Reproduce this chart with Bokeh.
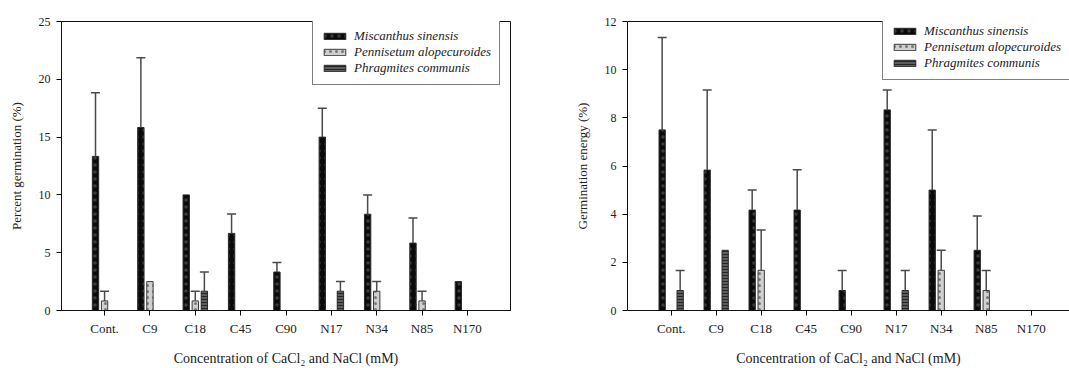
from bokeh.plotting import figure
from bokeh.models import (ColumnDataSource, FixedTicker, Legend, LegendItem, Whisker, TeeHead,
                          Range1d, LinearAxis)
from bokeh.layouts import row
from bokeh.embed import file_html
from bokeh.resources import INLINE

categories = ["Cont.", "C9", "C18", "C45", "C90", "N17", "N34", "N85", "N170"]
species = ["Miscanthus sinensis", "Pennisetum alopecuroides", "Phragmites communis"]

# Percent germination (%)
pg_miscanthus = [13.33, 15.83, 10.0, 6.67, 3.33, 15.0, 8.33, 5.83, 2.5]
pg_miscanthus_se = [5.5, 6.04, 0, 1.67, 0.83, 2.5, 1.67, 2.17, 0]
pg_pennisetum = [0.83, 2.5, 0.83, 0, 0, 0, 1.67, 0.83, 0]
pg_pennisetum_se = [0.83, 0, 0.83, 0, 0, 0, 0.83, 0.83, 0]
pg_phragmites = [0, 0, 1.67, 0, 0, 1.67, 0, 0, 0]
pg_phragmites_se = [0, 0, 1.67, 0, 0, 0.83, 0, 0, 0]

# Germination energy (%)
ge_miscanthus = [7.5, 5.83, 4.17, 4.17, 0.83, 8.33, 5.0, 2.5, 0]
ge_miscanthus_se = [3.84, 3.33, 0.83, 1.67, 0.83, 0.83, 2.5, 1.42, 0]
ge_pennisetum = [0, 0, 1.67, 0, 0, 0, 1.67, 0.83, 0]
ge_pennisetum_se = [0, 0, 1.67, 0, 0, 0, 0.83, 0.83, 0]
ge_phragmites = [0.83, 2.5, 0, 0, 0, 0.83, 0, 0, 0]
ge_phragmites_se = [0.83, 0, 0, 0, 0, 0.83, 0, 0, 0]

y_ticks_left = [0, 5, 10, 15, 20, 25]
y_ticks_right = [0, 2, 4, 6, 8, 10, 12]

FONT = "Liberation Serif"
offsets = [-0.2, 0.0, 0.2]
styles = [
    dict(fill_color="#0b0b0b", hatch_pattern="dot", hatch_color="#3c3c3c", hatch_scale=7, line_color="#2a2a2a"),
    dict(fill_color="#d0d0d0", hatch_pattern="dot", hatch_color="#7a7a7a", hatch_scale=6, line_color="#3a3a3a"),
    dict(fill_color="#5e5e5e", hatch_pattern="horizontal_line", hatch_color="#262626", hatch_scale=3, line_color="#2a2a2a"),
]


def make_panel(series, errs, ylabel, yticks, ymax, width, mb_left, mb_right, mb_top, mb_bottom,
               xr, legend_xy, full_outline=True, label_width=20):
    p = figure(width=width, height=368, output_backend="svg", toolbar_location=None,
               x_range=Range1d(*xr), y_range=Range1d(0, ymax),
               min_border_left=mb_left, min_border_right=mb_right,
               min_border_top=mb_top, min_border_bottom=mb_bottom)
    p.xgrid.visible = False
    p.ygrid.visible = False
    if full_outline:
        p.outline_line_color = "#111111"
        p.outline_line_width = 1
    else:
        # the frame runs off the right edge of the picture: only the top line shows
        p.outline_line_color = None
        top = LinearAxis(ticker=FixedTicker(ticks=[]), axis_line_color="#111111",
                         major_tick_line_color=None, minor_tick_line_color=None)
        p.add_layout(top, "above")
    p.background_fill_color = "white"
    p.border_fill_color = "white"

    items = []
    for k, (vals, se) in enumerate(zip(series, errs)):
        xs = [i + 1 + offsets[k] for i, v in enumerate(vals) if v > 0]
        tops = [v for v in vals if v > 0]
        src = ColumnDataSource(dict(x=xs, top=tops))
        r = p.vbar(x="x", top="top", bottom=0, width=0.14, source=src, line_width=1,
                   hatch_weight=1, **styles[k])
        items.append(LegendItem(label=species[k], renderers=[r]))
        ex = [i + 1 + offsets[k] for i, e in enumerate(se) if e > 0]
        el = [vals[i] for i, e in enumerate(se) if e > 0]
        eu = [vals[i] + e for i, e in enumerate(se) if e > 0]
        if ex:
            esrc = ColumnDataSource(dict(base=ex, lower=el, upper=eu))
            w = Whisker(base="base", lower="lower", upper="upper", source=esrc,
                        line_color="#4a4a4a", line_width=1.5,
                        upper_head=TeeHead(size=9, line_color="#4a4a4a", line_width=1.5),
                        lower_head=None, level="glyph")
            p.add_layout(w)

    leg = Legend(items=items, location=legend_xy, orientation="vertical")
    leg.label_text_font = FONT
    leg.label_text_font_style = "italic"
    leg.label_text_font_size = "13px"
    leg.label_text_color = "#222222"
    leg.label_height = 14
    leg.label_width = label_width
    leg.label_standoff = 6
    leg.glyph_width = 27
    leg.glyph_height = 8
    leg.spacing = 0
    leg.padding = 8
    leg.margin = 0
    leg.border_line_color = "black"
    leg.border_line_width = 1.2
    leg.background_fill_color = "white"
    leg.background_fill_alpha = 1
    p.add_layout(leg)

    xa = p.below[0]
    xa.ticker = FixedTicker(ticks=list(range(1, len(categories) + 1)))
    xa.major_label_overrides = {i + 1: c for i, c in enumerate(categories)}
    xa.minor_tick_line_color = None
    xa.major_tick_in = 0
    xa.major_tick_out = 5
    xa.major_label_standoff = 5
    xa.major_label_text_font = FONT
    xa.major_label_text_font_size = "13px"
    xa.major_label_text_color = "#222222"
    xa.axis_label = "Concentration of CaCl\u2082 and NaCl (mM)"
    xa.axis_label_text_font = FONT
    xa.axis_label_text_font_size = "14px"
    xa.axis_label_text_font_style = "normal"
    xa.axis_label_text_color = "#222222"
    xa.axis_label_standoff = 12
    xa.axis_line_color = "#111111"

    ya = p.left[0]
    ya.ticker = FixedTicker(ticks=yticks)
    ya.minor_tick_line_color = None
    ya.major_tick_in = 0
    ya.major_tick_out = 5
    ya.major_label_standoff = 6
    ya.major_label_text_font = FONT
    ya.major_label_text_font_size = "12px"
    ya.major_label_text_color = "#222222"
    ya.axis_label = ylabel
    ya.axis_label_text_font = FONT
    ya.axis_label_text_font_size = "13px"
    ya.axis_label_text_font_style = "normal"
    ya.axis_label_text_color = "#222222"
    ya.axis_label_standoff = 12
    ya.axis_line_color = "#111111"
    return p


p1 = make_panel([pg_miscanthus, pg_pennisetum, pg_phragmites],
                [pg_miscanthus_se, pg_pennisetum_se, pg_phragmites_se],
                "Percent germination (%)", y_ticks_left, 25,
                540, 61, 30, 21, 56, (0.05, 9.95), (251, 225))
p2 = make_panel([ge_miscanthus, ge_pennisetum, ge_phragmites],
                [ge_miscanthus_se, ge_pennisetum_se, ge_phragmites_se],
                "Germination energy (%)", y_ticks_right, 12,
                529, 87, 0, 20, 55, (0.03, 9.85), (255, 230),
                full_outline=False, label_width=170)

layout = row(p1, p2)
open("out.html", "w").write(file_html(layout, INLINE))
